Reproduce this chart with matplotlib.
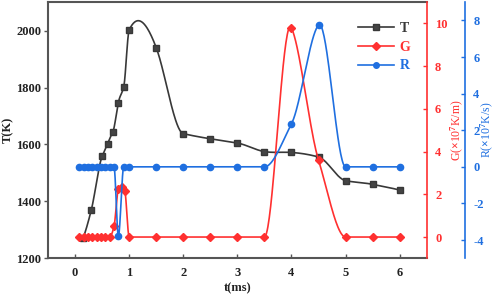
import numpy as np
import matplotlib
matplotlib.use("Agg")
import matplotlib.pyplot as plt
from matplotlib.lines import Line2D

plt.rcParams["font.family"] = ["Liberation Serif", "DejaVu Serif"]
plt.rcParams["font.weight"] = "bold"
plt.rcParams["axes.unicode_minus"] = False
plt.rcParams["mathtext.fontset"] = "custom"
plt.rcParams["mathtext.rm"] = "Liberation Serif:bold"
plt.rcParams["mathtext.bf"] = "Liberation Serif:bold"
plt.rcParams["mathtext.it"] = "Liberation Serif:bold:italic"

# temperature T (K)
t_T = [0.15, 0.3, 0.5, 0.6, 0.7, 0.8, 0.9, 1.0, 1.5, 2.0, 2.5, 3.0, 3.5, 4.0, 4.5, 5.0, 5.5, 6.0]
T = [1272, 1370, 1558, 1602, 1645, 1747, 1803, 2002, 1940, 1638, 1620, 1605, 1575, 1572, 1556, 1473, 1460, 1440]

# temperature gradient G (x10^7 K/m)
t_G = [0.08, 0.16, 0.24, 0.32, 0.40, 0.48, 0.56, 0.64, 0.72, 0.80, 0.86, 0.92, 1.0,
       1.5, 2.0, 2.5, 3.0, 3.5, 4.0, 4.5, 5.0, 5.5, 6.0]
G = [0, 0, 0, 0, 0, 0, 0, 0, 0.5, 2.25, 2.35, 2.15, 0,
     0, 0, 0, 0, 0, 9.8, 3.6, 0, 0, 0]

# solidification rate R (x10^7 K/s)
t_R = [0.08, 0.16, 0.24, 0.32, 0.40, 0.48, 0.56, 0.64, 0.72, 0.80, 0.90, 1.0,
       1.5, 2.0, 2.5, 3.0, 3.5, 4.0, 4.5, 5.0, 5.5, 6.0]
R = [0, 0, 0, 0, 0, 0, 0, 0, 0, -3.8, 0, 0,
     0, 0, 0, 0, 0, 2.35, 7.75, 0, 0, 0]

c_T = "#383838"
c_G = "#ff3030"
c_R = "#1f6fe0"
c_ax = "#555555"


def akima(x, y, n=40):
    """Smooth curve through the points (Akima spline, no big overshoot)."""
    x = np.asarray(x, float)
    y = np.asarray(y, float)
    m = np.diff(y) / np.diff(x)
    m = np.concatenate([[3 * m[0] - 2 * m[1], 2 * m[0] - m[1]], m,
                        [2 * m[-1] - m[-2], 3 * m[-1] - 2 * m[-2]]])
    d = np.zeros(len(x))
    for i in range(len(x)):
        m1, m2, m3, m4 = m[i], m[i + 1], m[i + 2], m[i + 3]
        w1 = abs(m4 - m3)
        w2 = abs(m2 - m1)
        if w1 + w2 == 0:
            d[i] = 0.5 * (m2 + m3)
        else:
            d[i] = (w1 * m2 + w2 * m3) / (w1 + w2)
    xs, ys = [], []
    for i in range(len(x) - 1):
        h = x[i + 1] - x[i]
        s = np.linspace(0, 1, n)
        h00 = 2 * s**3 - 3 * s**2 + 1
        h10 = s**3 - 2 * s**2 + s
        h01 = -2 * s**3 + 3 * s**2
        h11 = s**3 - s**2
        xs.append(x[i] + s * h)
        ys.append(h00 * y[i] + h10 * h * d[i] + h01 * y[i + 1] + h11 * h * d[i + 1])
    return np.concatenate(xs), np.concatenate(ys)


fig = plt.figure(figsize=(4.98, 2.97), dpi=100)
ax = fig.add_axes([0.0964, 0.130, 0.7605, 0.863])
ax_g = ax.twinx()
ax_r = ax.twinx()
ax_r.spines["right"].set_position(("axes", 1.101))

# T
xs, ys = akima(t_T, T)
ax.plot(xs, ys, color=c_T, lw=1.2, zorder=3)
ax.plot(t_T, T, ls="none", marker="s", ms=4.5, color="#444444", mec=c_T, zorder=4)

# G
xs, ys = akima(t_G, G)
ax_g.plot(xs, ys, color=c_G, lw=1.2)
ax_g.plot(t_G, G, ls="none", marker="D", ms=4, color=c_G)

# R
xs, ys = akima(t_R, R)
ax_r.plot(xs, ys, color=c_R, lw=1.2)
ax_r.plot(t_R, R, ls="none", marker="o", ms=4.5, color=c_R)

ax.set_xlim(-0.5, 6.5)
ax.set_ylim(1200, 2100)
ax.set_xticks(range(7))
ax.set_yticks(range(1200, 2001, 200))
ax_g.set_ylim(-1, 11)
ax_g.set_yticks(range(0, 11, 2))
ax_r.set_ylim(-5, 9)
ax_r.set_yticks(range(-4, 9, 2))

fs = 9
ax.tick_params(axis="x", direction="in", length=3, width=1, colors=c_ax, labelcolor="#222222", labelsize=fs, pad=6)
ax.tick_params(axis="y", direction="out", length=3, width=1, colors=c_ax, labelcolor="#222222", labelsize=fs, pad=2)
ax_g.tick_params(axis="y", direction="in", length=3, width=1, colors=c_G, labelsize=fs, pad=6)
ax_r.tick_params(axis="y", direction="in", length=3, width=1, colors=c_R, labelsize=fs, pad=6)

for name in ["left", "bottom", "top"]:
    ax.spines[name].set_color(c_ax)
    ax.spines[name].set_linewidth(1.5)
ax.spines["right"].set_visible(False)
for name in ["left", "bottom", "top"]:
    ax_g.spines[name].set_visible(False)
    ax_r.spines[name].set_visible(False)
ax_g.spines["right"].set_color(c_G)
ax_g.spines["right"].set_linewidth(1.2)
ax_r.spines["right"].set_color(c_R)
ax_r.spines["right"].set_linewidth(1.2)

# axis labels, placed where the reference has them
ax.set_xlabel("t(ms)", fontsize=fs, fontweight="bold", color="#222222")
ax.xaxis.set_label_coords(0.5, -0.095)
ax.set_ylabel("T(K)", fontsize=fs, fontweight="bold", color="#222222")
ax.yaxis.set_label_coords(-0.09, 0.5)
ax_g.set_ylabel(r"G($\times$10$^{7}$K/m)", fontsize=8.5, color=c_G)
ax_g.yaxis.set_label_coords(1.06, 0.5)
ax_r.set_ylabel(r"R($\times$10$^{7}$K/s)", fontsize=8.5, color=c_R)
ax_r.yaxis.set_label_coords(1.138, 0.5)

handles = [
    Line2D([], [], color=c_T, lw=1.2, marker="s", ms=4, mfc="#444444", label="T"),
    Line2D([], [], color=c_G, lw=1.2, marker="D", ms=4, label="G"),
    Line2D([], [], color=c_R, lw=1.2, marker="o", ms=4, label="R"),
]
leg = ax.legend(handles=handles, loc="upper right", bbox_to_anchor=(0.99, 0.97), frameon=False,
                fontsize=fs + 1, handlelength=2.6, handletextpad=0.4, labelspacing=0.4)
for txt, col in zip(leg.get_texts(), [c_T, c_G, c_R]):
    txt.set_color(col)

fig.savefig("out.png", dpi=100)
